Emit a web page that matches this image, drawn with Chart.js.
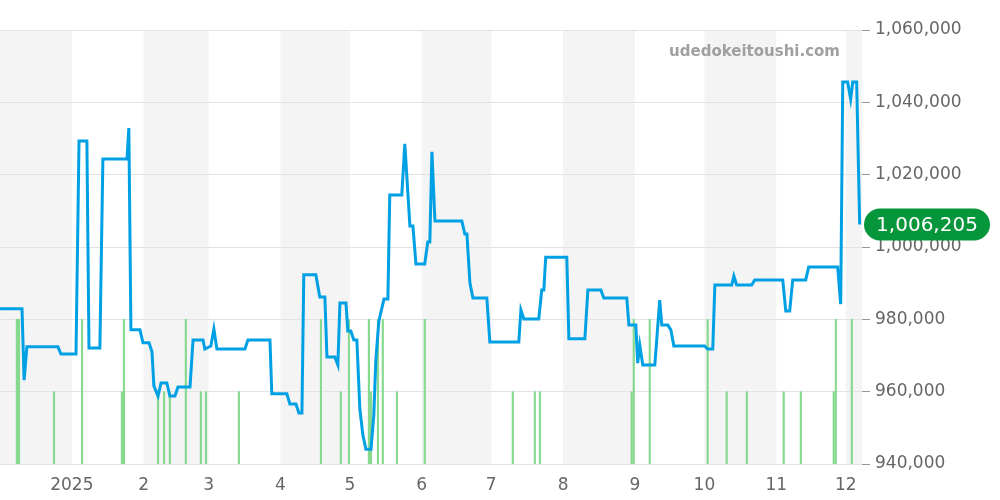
<!DOCTYPE html>
<html><head><meta charset="utf-8">
<script src="https://cdn.jsdelivr.net/npm/chart.js@4"></script>
<style>html,body{margin:0;padding:0;background:#fff}#w{width:1000px;height:500px}</style>
</head><body><div id="w"><canvas id="c"></canvas></div>
<script>
// x = days since 2024-12-01
const priceDays=[0,9.5,10.4,11.6,25,26.3,32.8,34.1,37.5,38.4,43.1,44.4,54.8,55.6,56.5,60.4,61.7,64.3,65.6,66.4,68.2,69.5,72,73.3,75.5,76.8,82,83.3,87.6,88.4,91,92.3,93.6,105.7,107,116.5,117.3,123.8,125.1,127.7,129,130.3,131.1,136.3,138,140.2,141.1,144.5,145.8,146.7,149.3,150.1,151.4,152.7,154,155.3,156.6,157.9,160.1,161.3,162.2,163.5,165.7,167.4,168.2,173.4,174.7,176.9,178.2,179.5,183.3,184.6,185.5,186.4,187.7,199.3,200.6,201.5,202.8,204.1,210.1,211.4,223.9,224.8,226.1,232.5,233.8,234.7,235.5,244.6,245.5,252.4,253.7,259.3,260.6,270.5,271.4,274.4,275.2,276.1,277.4,282.6,284.7,285.6,288.2,289.5,290.8,304.1,305.4,307.6,308.5,315.8,316.7,317.9,324.4,325.7,337.8,339.1,340.8,342.1,347.7,349,361.5,362.8,363.7,365.8,367.1,368,369.7,371];
const priceValues=[982900,982900,963200,972400,972400,970400,970400,1029300,1029300,972100,972100,1024300,1024300,1032900,977100,977100,973500,973500,971000,961600,958800,962400,962400,958800,958800,961300,961300,974300,974300,971800,972600,977300,971800,971800,974300,974300,959400,959400,956600,956600,954100,954100,992300,992300,986200,986200,969600,969600,967400,984500,984500,976800,976800,974300,974300,955200,948000,944100,944100,953300,968800,979500,985600,985600,1014400,1014400,1028500,1005800,1005800,995300,995300,1001400,1001400,1026300,1007200,1007200,1003600,1003600,990000,985900,985900,973700,973700,982600,980100,980100,988100,988100,997200,997200,974600,974600,988100,988100,985900,985900,978400,978400,967900,972900,967400,967400,985300,978400,978400,977100,972600,972600,971800,971800,989500,989500,992000,989500,989500,990900,990900,982300,982300,990900,990900,994500,994500,984200,1045600,1045600,1040900,1045600,1045600,1006205];
const volDays=[7.3,8.2,23.3,35.4,52.6,53.5,68.2,70.8,73.3,80.2,86.7,88.9,103.1,138.5,147.1,150.6,159.2,160.1,163.1,165.2,171.3,183.3,221.3,230.8,233,272.6,273.5,280.4,305.4,313.6,322.3,338.2,345.6,359.8,360.7,367.6];
const volValues=[2,2,1,2,1,2,1,1,1,2,1,1,1,2,1,2,2,1,2,2,1,2,1,1,1,1,2,2,2,1,1,1,1,1,2,2];
const monthDays=[31,62,90,121,151,182,212,243,274,304,335,365];
const monthLabels=["2025","2","3","4","5","6","7","8","9","10","11","12"];
const yTicks=[940000,960000,980000,1000000,1020000,1040000,1060000];
const lastLabel="1,006,205";

const bands={id:'bands',beforeDraw(ch){const {ctx,chartArea:a,scales:{x}}=ch;ctx.save();ctx.fillStyle='#f4f4f4';
 const edges=[0,...monthDays,372];
 for(let i=0;i<edges.length-1;i+=2){const l=x.getPixelForValue(edges[i]),r=x.getPixelForValue(edges[i+1]);ctx.fillRect(l,a.top,r-l,a.bottom-a.top);}
 ctx.restore();}};
const deco={id:'deco',afterDraw(ch){const {ctx,chartArea:a,scales:{y}}=ch;ctx.save();
 ctx.fillStyle='#a0a0a0';ctx.font='bold 15px "DejaVu Sans"';ctx.textAlign='right';ctx.textBaseline='middle';ctx.fillText('udedokeitoushi.com',840,52);
 const v=priceValues[priceValues.length-1];const py=y.getPixelForValue(v);
 const l=864,r=990,h=32,rad=16;ctx.fillStyle='#05963b';ctx.beginPath();ctx.roundRect(l,py-h/2,r-l,h,rad);ctx.fill();
 ctx.fillStyle='#fff';ctx.font='20px "DejaVu Sans"';ctx.textAlign='center';ctx.fillText(lastLabel,(l+r)/2,py+1);
 ctx.restore();}};

new Chart(document.getElementById('c'),{
 data:{datasets:[
  {type:'line',data:priceDays.map((d,i)=>({x:d,y:priceValues[i]})),borderColor:'#00a0e4',borderWidth:3,pointRadius:0,tension:0,yAxisID:'y',order:1},
  {type:'bar',data:volDays.map((d,i)=>({x:d,y:volValues[i]})),backgroundColor:'#86d98f',barThickness:1.5,yAxisID:'y2',order:2}
 ]},
 options:{responsive:true,maintainAspectRatio:false,animation:false,
  layout:{padding:{top:30,left:0,right:0,bottom:0}},
  plugins:{legend:{display:false},tooltip:{enabled:false}},
  scales:{
   x:{type:'linear',offset:false,min:0,max:372,grid:{display:false,offset:false},border:{display:false},
      afterBuildTicks(s){s.ticks=monthDays.map(v=>({value:v}));},
      afterFit(s){s.height=36;},
      ticks:{autoSkip:false,maxRotation:0,color:'#666',font:{size:17,family:'DejaVu Sans'},callback(v){const i=monthDays.indexOf(v);return i>=0?monthLabels[i]:'';}}},
   y:{position:'right',min:940000,max:1060000,
      afterBuildTicks(s){s.ticks=yTicks.map(v=>({value:v}));},
      afterFit(s){s.width=138;},
      grid:{color:'#e3e3e3',drawTicks:true,tickLength:8,tickColor:'#999'},border:{display:false},
      ticks:{color:'#666',padding:5,font:{size:17,family:'DejaVu Sans'},callback:v=>v.toLocaleString('en-US')}},
   y2:{display:false,min:0,max:6}
  }},
 plugins:[bands,deco]
});
</script></body></html>
